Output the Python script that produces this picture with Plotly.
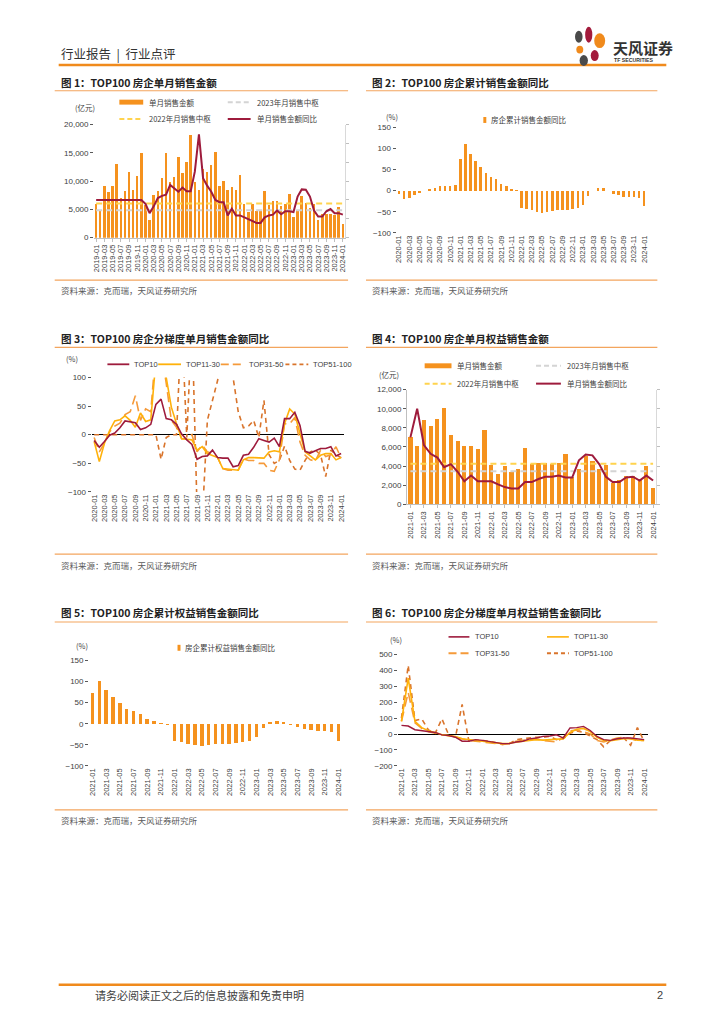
import plotly.graph_objects as go

W, H = 724, 1024


def fx(p):
    return p / W


def fy(p):
    return 1 - p / H


def month_labels(y0, m0, n):
    out = []
    y, m = y0, m0
    for _ in range(n):
        out.append(f"{y}-{m:02d}")
        m += 1
        if m > 12:
            m = 1
            y += 1
    return out


# ---------------- categories ----------------
months_1 = month_labels(2019, 1, 61)   # chart 1
months_2 = month_labels(2020, 1, 49)   # charts 2, 3
months_4 = month_labels(2021, 1, 37)   # charts 4, 5, 6

# ---------------- chart 1 data ----------------
sales_1 = [5900, 4700, 9100, 8000, 9200, 13100, 7100, 8200, 11600, 8500, 10900, 14900,
           5800, 3100, 7500, 8300, 10500, 14900, 9900, 10800, 14200, 11500, 13400, 18100,
           9800, 8500, 12200, 11700, 12800, 15100, 9200, 10100, 8500, 8900, 8400, 11100,
           5900, 4500, 5900, 4700, 4700, 8300, 5700, 6400, 6400, 5600, 5900, 7800,
           3700, 4900, 7300, 6100, 5300, 5900, 3100, 4200, 4200, 4200, 4000, 5400,
           2400]
yoy_1 = [0, 0, 0, 0, 0, 0, 0, 0, 0, 0, 0, 0,
         -10, -35, -17, 5, 11, 14, 40, 31, 22, 33, 23, 23,
         75, 174, 58, 38, 22, 0, -6, -6, -41, -23, -41, -41,
         -46, -51, -55, -61, -61, -46, -41, -39, -28, -38, -30, -30,
         -32, 9, 28, 27, 9, -28, -44, -44, -30, -24, -35, -35,
         -39]
median_2022_1 = 6050
median_2023_1 = 4850

# ---------------- chart 2 data ----------------
cum_yoy_2 = [-7, -20, -18, -10, -5, -1, 3, 6, 10, 12, 12, 14,
             76, 111, 87, 71, 57, 41, 33, 27, 15, 11, 5, 2,
             -40, -43, -45, -50, -52, -51, -48, -46, -45, -45, -44, -42,
             -34, -12, -1, 7, 7, -1, -7, -11, -15, -16, -16, -18,
             -37]

# ---------------- chart 3 data ----------------
top10_3 = [-10, -22, -12, -1, 3, 12, 24, 22, 21, 9, 12, 18,
           53, 62, 28, 26, 18, 1, -9, -17, -43, -38, -37, -27,
           -40, -41, -41, -56, -54, -36, -34, -22, -7, -10, -13, -6,
           -21, 28, 28, 39, 16, -29, -32, -28, -24, -24, -21, -37,
           -33]
top11_30_3 = [-12, -47, -15, 7, 24, 26, 33, 25, 13, 38, 23, 26,
              130, 150, 100, 48, 19, -7, -8, -9, -27, -21, -33, -36,
              -40, -59, -60, -62, -62, -44, -40, -40, -40, -41, -30, -28,
              -30, 19, 45, 36, 2, -30, -37, -44, -36, -33, -33, -44,
              -40]
top31_50_3 = [-5, -30, -15, 5, 15, 20, 35, 40, 68, 25, 45, 40,
              150, 150, 90, 25, 13, -7, -7, 0, -30, -18, -30, -33,
              -40, -59, -62, -62, -62, -42, -45, -45, -50, -50, -62, -64,
              -44, 19, 19, 30, -13, -36, -44, -46, -27, -38, -35, -21,
              -41]
top51_100_3 = [0, 0, 0, 0, 0, 0, 0, 0, 0, 0, 0, 0,
               0, -43, -5, 0, 0, 200, -5, 200, -130, -150, 25, 60,
               95, 160, 150, 100, 40, 12, 15, 25, -5, 60, -35, -50,
               -45, -20, -45, -60, -62, -45, -30, -27, -35, -73, -27, -35,
               -40]

# ---------------- chart 4 data ----------------
equity_4 = [7000, 6100, 8800, 8200, 8900, 10100, 7300, 6600, 6100, 6100, 5800, 7800,
            4100, 3200, 4000, 3400, 3700, 5900, 4200, 4300, 4300, 4200, 4300, 5300,
            2900, 3700, 5000, 4500, 3700, 4100, 2200, 2500, 3000, 3000, 2600, 4000,
            1700]
yoy_4 = [75, 150, 55, 32, 22, -3, 5, -15, -40, -25, -40, -40,
         -40, -48, -55, -59, -59, -42, -42, -34, -28, -28, -25, -30,
         -30, 15, 30, 28, 5, -28, -42, -42, -30, -28, -38, -25,
         -38]
median_2022_4 = 4250
median_2023_4 = 3450

# ---------------- chart 5 data ----------------
cum_yoy_5 = [73, 102, 80, 63, 49, 35, 30, 23, 12, 6, 2, -4,
             -41, -44, -48, -50, -53, -51, -49, -48, -47, -45, -44, -42,
             -31, -11, 3, 7, 5, -2, -7, -12, -14, -16, -18, -19,
             -40]

# ---------------- chart 6 data ----------------
top10_6 = [54, 50, 27, 20, 15, 10, -5, -10, -20, -45, -45, -35,
           -40, -48, -55, -60, -60, -50, -45, -30, -25, -15, -12, -5,
           -25, 38, 40, 48, 22, -15, -35, -40, -30, -25, -25, -30,
           -35]
top11_30_6 = [80, 350, 80, 40, 20, 10, -5, -10, -15, -30, -35, -40,
              -45, -50, -58, -60, -58, -50, -45, -40, -35, -38, -35, -35,
              -30, 10, 30, 35, 15, -20, -40, -42, -35, -30, -30, -38,
              -40]
top31_50_6 = [80, 260, 70, 35, 15, 5, -5, -10, -20, -30, -40, -45,
              -50, -55, -60, -65, -60, -45, -40, -35, -30, -40, -45, -50,
              -20, 20, 25, 15, 0, -40, -50, -35, -25, -20, -30, -40,
              -40]
top51_100_6 = [100, 430, 85, 95, 25, 5, 95, -5, -20, 185, -45, -40,
               -40, -45, -55, -65, -60, -35, -30, -25, -20, -20, -15, -35,
               -30, 5, 20, 10, -10, -35, -80, -40, -30, -25, -70, 40,
               -45]

# ---------------- styles ----------------
ORANGE = "#F5921E"
DARKRED = "#9E1B3C"
YELLOW = "#FFD34E"
GREY = "#D4D4D4"
C_T11 = "#FFB10A"
C_T31 = "#F59A3A"
C_T51 = "#D9742B"
LINE_OR = "#F3A55E"
CJK = "Noto Sans CJK SC, sans-serif"
NUM = "Liberation Sans, Arial, sans-serif"
TXT = "#404040"

fig = go.Figure()

# chart 1
fig.add_trace(go.Bar(x=months_1, y=sales_1, marker_color=ORANGE, marker_line_width=0,
                     width=0.6, xaxis="x", yaxis="y", name="单月销售金额"))
fig.add_trace(go.Scatter(x=[months_1[0], months_1[-1]], y=[median_2023_1, median_2023_1],
                         mode="lines", line=dict(color=GREY, width=2, dash="6px,4px"),
                         xaxis="x", yaxis="y", name="2023年月销售中枢"))
fig.add_trace(go.Scatter(x=[months_1[0], months_1[-1]], y=[median_2022_1, median_2022_1],
                         mode="lines", line=dict(color=YELLOW, width=2, dash="6px,4px"),
                         xaxis="x", yaxis="y", name="2022年月销售中枢"))
fig.add_trace(go.Scatter(x=months_1, y=yoy_1, mode="lines", line=dict(color=DARKRED, width=2),
                         xaxis="x", yaxis="y7", name="单月销售金额同比"))

# chart 2
fig.add_trace(go.Bar(x=months_2, y=cum_yoy_2, marker_color=ORANGE, marker_line_width=0,
                     width=0.5, xaxis="x2", yaxis="y2", name="房企累计销售金额同比"))

# chart 3
fig.add_trace(go.Scatter(x=months_2, y=top51_100_3, mode="lines",
                         line=dict(color=C_T51, width=1.6, dash="5px,4px"),
                         xaxis="x3", yaxis="y3", name="TOP51-100"))
fig.add_trace(go.Scatter(x=months_2, y=top31_50_3, mode="lines",
                         line=dict(color=C_T31, width=1.6, dash="10px,5px"),
                         xaxis="x3", yaxis="y3", name="TOP31-50"))
fig.add_trace(go.Scatter(x=months_2, y=top11_30_3, mode="lines", line=dict(color=C_T11, width=1.6),
                         xaxis="x3", yaxis="y3", name="TOP11-30"))
fig.add_trace(go.Scatter(x=months_2, y=top10_3, mode="lines", line=dict(color=DARKRED, width=1.6),
                         xaxis="x3", yaxis="y3", name="TOP10"))

# chart 4
fig.add_trace(go.Bar(x=months_4, y=equity_4, marker_color=ORANGE, marker_line_width=0,
                     width=0.62, xaxis="x4", yaxis="y4", name="单月销售金额"))
fig.add_trace(go.Scatter(x=[months_4[0], months_4[-1]], y=[median_2023_4, median_2023_4],
                         mode="lines", line=dict(color=GREY, width=2, dash="6px,4px"),
                         xaxis="x4", yaxis="y4", name="2023年月销售中枢"))
fig.add_trace(go.Scatter(x=[months_4[0], months_4[-1]], y=[median_2022_4, median_2022_4],
                         mode="lines", line=dict(color=YELLOW, width=2, dash="6px,4px"),
                         xaxis="x4", yaxis="y4", name="2022年月销售中枢"))
fig.add_trace(go.Scatter(x=months_4, y=yoy_4, mode="lines", line=dict(color=DARKRED, width=2),
                         xaxis="x4", yaxis="y8", name="单月销售金额同比"))

# chart 5
fig.add_trace(go.Bar(x=months_4, y=cum_yoy_5, marker_color=ORANGE, marker_line_width=0,
                     width=0.5, xaxis="x5", yaxis="y5", name="房企累计权益销售金额同比"))

# chart 6
fig.add_trace(go.Scatter(x=months_4, y=top51_100_6, mode="lines",
                         line=dict(color=C_T51, width=1.6, dash="5px,4px"),
                         xaxis="x6", yaxis="y6", name="TOP51-100"))
fig.add_trace(go.Scatter(x=months_4, y=top31_50_6, mode="lines",
                         line=dict(color=C_T31, width=1.6, dash="10px,5px"),
                         xaxis="x6", yaxis="y6", name="TOP31-50"))
fig.add_trace(go.Scatter(x=months_4, y=top11_30_6, mode="lines", line=dict(color=C_T11, width=1.6),
                         xaxis="x6", yaxis="y6", name="TOP11-30"))
fig.add_trace(go.Scatter(x=months_4, y=top10_6, mode="lines", line=dict(color=DARKRED, width=1.4),
                         xaxis="x6", yaxis="y6", name="TOP10"))


def xax(dom, cats, anchor, line=False):
    return dict(domain=[fx(dom[0]), fx(dom[1])], anchor=anchor, type="category",
                categoryorder="array", categoryarray=cats,
                range=[-0.5, len(cats) - 0.5], tickmode="array",
                tickvals=cats[::2], ticktext=cats[::2], tickangle=-90,
                tickfont=dict(size=7.5, family=NUM, color=TXT),
                showgrid=False, zeroline=False, showline=line, linecolor="#BFBFBF",
                ticks="outside" if line else "", ticklen=3, tickcolor="#BFBFBF", fixedrange=True)


def yax(dom, anchor, rng, dtick, fmt="", zero=False, line=False):
    return dict(domain=[fy(dom[1]), fy(dom[0])], anchor=anchor, range=rng, dtick=dtick,
                tick0=0, tickformat=fmt, tickfont=dict(size=8, family=NUM, color=TXT),
                showgrid=False, zeroline=zero, zerolinecolor="#000000", zerolinewidth=1,
                showline=line, linecolor="#BFBFBF", ticks="outside", ticklen=3,
                tickcolor="#595959", fixedrange=True)


D1x, D1y = (92.6, 344.8), (121.7, 235.7)
D2x, D2y = (396.7, 648.3), (124.3, 231.0)
D3x, D3y = (90.1, 343.6), (376.7, 492.3)
D4x, D4y = (407.3, 658.1), (389.0, 504.7)
D5x, D5y = (87.6, 341.7), (662.3, 768.7)
D6x, D6y = (398.3, 649.1), (656.0, 768.7)

layout = dict(
    width=W, height=H, autosize=False, margin=dict(l=0, r=0, t=0, b=0),
    paper_bgcolor="white", plot_bgcolor="white", showlegend=False, bargap=0,
    xaxis=xax(D1x, months_1, "y", line=True),
    yaxis=yax(D1y, "x", [0, 20000], 5000, ","),
    yaxis7=dict(overlaying="y", anchor="x", side="right", range=[-100, 200], dtick=50,
                showticklabels=False, showgrid=False, zeroline=False, showline=True,
                linecolor="#D9D9D9", ticks="outside", ticklen=3, tickcolor="#BFBFBF",
                fixedrange=True),
    xaxis2=xax(D2x, months_2, "y2"),
    yaxis2=yax(D2y, "x2", [-100, 150], 50),
    xaxis3=xax(D3x, months_2, "y3"),
    yaxis3=yax(D3y, "x3", [-100, 100], 50, zero=True),
    xaxis4=xax(D4x, months_4, "y4", line=True),
    yaxis4=yax(D4y, "x4", [0, 12000], 2000, ",", line=True),
    yaxis8=dict(overlaying="y4", anchor="x4", side="right", range=[-100, 200], dtick=50,
                showticklabels=False, showgrid=False, zeroline=False, showline=True,
                linecolor="#D9D9D9", ticks="outside", ticklen=3, tickcolor="#BFBFBF",
                fixedrange=True),
    xaxis5=xax(D5x, months_4, "y5"),
    yaxis5=yax(D5y, "x5", [-100, 150], 50),
    xaxis6=xax(D6x, months_4, "y6"),
    yaxis6=yax(D6y, "x6", [-200, 500], 100, zero=True),
)
fig.update_layout(**layout)

annotations = []
shapes = []


def txt(x, y, s, size=8, color=TXT, family=CJK, anchor="left"):
    annotations.append(dict(x=fx(x), y=fy(y), xref="paper", yref="paper", text=s,
                            showarrow=False, xanchor=anchor, yanchor="middle",
                            font=dict(size=size, color=color, family=family)))


def hline(x0, x1, y, color, width=1, dash="solid"):
    shapes.append(dict(type="line", xref="paper", yref="paper", x0=fx(x0), x1=fx(x1),
                       y0=fy(y), y1=fy(y), line=dict(color=color, width=width, dash=dash)))


def rect(x0, x1, y0, y1, color):
    shapes.append(dict(type="rect", xref="paper", yref="paper", x0=fx(x0), x1=fx(x1),
                       y0=fy(y1), y1=fy(y0), line=dict(width=0), fillcolor=color))


def ell(cx, cy, rx, ry, color):
    shapes.append(dict(type="circle", xref="paper", yref="paper", x0=fx(cx - rx), x1=fx(cx + rx),
                       y0=fy(cy + ry), y1=fy(cy - ry), line=dict(width=0), fillcolor=color))


# ---------------- header ----------------
txt(57, 50, "行业报告  |  行业点评", size=12.5, color="#333333")
hline(57, 668, 61.5, "#F08A1C", width=2.5)
ell(580, 33, 3.8, 6, "#4A4A4A")
ell(590, 31, 3.6, 8, "#A31B3C")
ell(601, 37, 5.5, 7.5, "#F08A1C")
ell(581, 46, 3.5, 4, "#F08A1C")
ell(596, 52, 4, 5.5, "#A31B3C")
ell(585, 57, 4.2, 5.5, "#4A4A4A")
txt(612, 44, "<b>天风证券</b>", size=15, color="#333333")
txt(613, 56.5, "<b>TF SECURITIES</b>", size=5.2, color="#333333", family=NUM)

# ---------------- panel frames ----------------
panels = [
    (53, 348, 79, 87.5, 278.5, 288.5, "<b>图 1：TOP100 房企单月销售金额</b>"),
    (366, 659, 79, 87.5, 278.5, 288.5, "<b>图 2：TOP100 房企累计销售金额同比</b>"),
    (53, 348, 337.5, 346.5, 555, 565.5, "<b>图 3：TOP100 房企分梯度单月销售金额同比</b>"),
    (366, 659, 337.5, 346.5, 555, 565.5, "<b>图 4：TOP100 房企单月权益销售金额</b>"),
    (53, 348, 614, 623.5, 813, 823, "<b>图 5：TOP100 房企累计权益销售金额同比</b>"),
    (366, 659, 614, 623.5, 813, 823, "<b>图 6：TOP100 房企分梯度单月权益销售金额同比</b>"),
]
for x0, x1, ty, ly, sly, sty, title in panels:
    txt(x0 + 4, ty, title, size=10.5, color="#222222")
    hline(x0, x1, ly, LINE_OR, width=1.2)
    hline(x0, x1, sly, LINE_OR, width=1.2)
    txt(x0 + 4, sty, "资料来源：克而瑞，天风证券研究所", size=8.5, color="#595959")

# ---------------- legends ----------------
LG = 7.5
# chart 1
txt(71, 104.5, "(亿元)", size=LG)
rect(118, 142, 96.5, 101.5, ORANGE)
txt(146, 99, "单月销售金额", size=LG)
hline(227, 250, 99, GREY, width=2, dash="5px,3px")
txt(254, 99, "2023年月销售中枢", size=LG)
hline(118, 142, 116, YELLOW, width=2, dash="5px,3px")
txt(146, 116, "2022年月销售中枢", size=LG)
hline(227, 250, 116, DARKRED, width=2)
txt(254, 116, "单月销售金额同比", size=LG)
# chart 2
txt(384, 113.5, "(%)", size=LG)
rect(484, 487, 114, 120, ORANGE)
txt(490, 117, "房企累计销售金额同比", size=LG)
# chart 3
txt(62, 358, "(%)", size=LG)
hline(106, 128, 363.5, DARKRED, width=1.8)
txt(131, 363.5, "TOP10", size=LG, family=NUM)
hline(157, 180, 363.5, C_T11, width=1.8)
txt(183, 363.5, "TOP11-30", size=LG, family=NUM)
hline(220, 243, 363.5, C_T31, width=1.8, dash="8px,4px")
txt(246, 363.5, "TOP31-50", size=LG, family=NUM)
hline(285, 308, 363.5, C_T51, width=1.8, dash="4px,3px")
txt(311, 363.5, "TOP51-100", size=LG, family=NUM)
# chart 4
txt(377, 373.5, "(亿元)", size=LG)
rect(425, 452, 362.5, 367.5, ORANGE)
txt(456, 365, "单月销售金额", size=LG)
hline(537, 562, 365, GREY, width=2, dash="5px,3px")
txt(566, 365, "2023年月销售中枢", size=LG)
hline(425, 452, 383, YELLOW, width=2, dash="5px,3px")
txt(456, 383, "2022年月销售中枢", size=LG)
hline(537, 562, 383, DARKRED, width=2)
txt(566, 383, "单月销售金额同比", size=LG)
# chart 5
txt(72, 647.5, "(%)", size=LG)
rect(176.5, 179.5, 646.5, 652.5, ORANGE)
txt(182, 649.5, "房企累计权益销售金额同比", size=LG)
# chart 6
txt(388, 641.5, "(%)", size=LG)
hline(449, 470, 638.5, DARKRED, width=1.6)
txt(474, 638.5, "TOP10", size=LG, family=NUM)
hline(548, 570, 638.5, C_T11, width=1.6)
txt(573, 638.5, "TOP11-30", size=LG, family=NUM)
hline(449, 470, 655, C_T31, width=1.8, dash="8px,4px")
txt(474, 655, "TOP31-50", size=LG, family=NUM)
hline(548, 570, 655, C_T51, width=1.8, dash="4px,3px")
txt(573, 655, "TOP51-100", size=LG, family=NUM)

# ---------------- footer ----------------
hline(57, 668, 989.5, "#F08A1C", width=2.5)
txt(92, 1000, "请务必阅读正文之后的信息披露和免责申明", size=11, color="#404040")
txt(667, 1000, "2", size=11, color="#404040", family=NUM, anchor="right")

fig.update_layout(annotations=annotations, shapes=shapes)

fig.write_html("out.html", config={"displayModeBar": False, "staticPlot": True},
               post_script="document.body.style.margin='0';document.body.style.overflow='hidden';")
